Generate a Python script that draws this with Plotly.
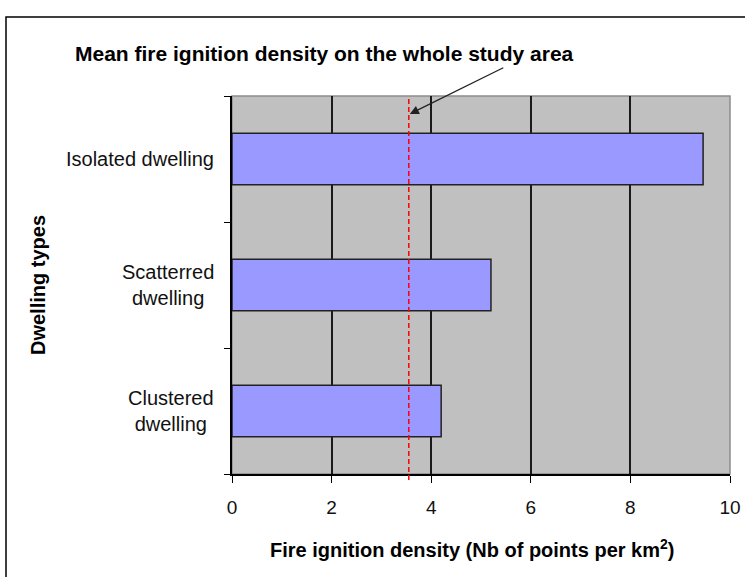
import plotly.graph_objects as go

categories = ["Isolated dwelling", "Scatterred dwelling", "Clustered dwelling"]
label_text = ["Isolated dwelling", "Scatterred<br>dwelling", "Clustered<br>dwelling"]
densities = [9.46, 5.2, 4.2]
mean_density = 3.55
x_ticks = [0, 2, 4, 6, 8, 10]

BOLD = "Liberation Sans, Arial, sans-serif"
REG = "Liberation Sans, Arial, sans-serif"

fig = go.Figure()
fig.add_trace(go.Bar(
    y=categories, x=densities, orientation="h",
    marker=dict(color="#9999FF", line=dict(color="#222222", width=1.5)),
    hoverinfo="skip", showlegend=False,
))

fig.update_layout(
    width=745, height=577, autosize=False,
    margin=dict(l=232, r=15, t=96, b=103, autoexpand=False),
    paper_bgcolor="white", plot_bgcolor="#C0C0C0",
    bargap=0.59,
    xaxis=dict(
        range=[0, 10], tickvals=x_ticks, ticks="outside", ticklen=7,
        tickcolor="black", showgrid=True, gridcolor="#1a1a1a", gridwidth=1.5,
        showline=True, linecolor="black", linewidth=1.5, zeroline=False,
        tickfont=dict(family=REG, size=19, color="#111111"),
        ticklabelstandoff=8, automargin=False,
        fixedrange=True,
    ),
    yaxis=dict(
        type="category", categoryorder="array", categoryarray=categories[::-1],
        tickson="boundaries", ticks="outside", ticklen=6, tickcolor="black",
        showticklabels=False, showgrid=False, automargin=False,
        showline=True, linecolor="black", linewidth=1.5, fixedrange=True,
    ),
)

# plot border (top/right grey)
fig.add_shape(type="rect", xref="paper", yref="paper", x0=0, x1=1, y0=0, y1=1,
              line=dict(color="#8c8c8c", width=1.5), layer="below")

# category labels
for c, t in zip(categories, label_text):
    fig.add_annotation(x=(216 - 232) / 498, xref="paper", y=c, yref="y", text=t,
                       showarrow=False, xanchor="right", align="center",
                       font=dict(family=REG, size=20, color="#111111"))

# mean line
fig.add_shape(type="line", xref="x", yref="paper", x0=mean_density, x1=mean_density,
              y0=-0.016, y1=1.0, line=dict(color="#FF0000", width=1.5, dash="5px,3px"))

# outer chart border
fig.add_shape(type="rect", xref="paper", yref="paper",
              x0=(6 - 232) / 498, x1=(780 - 232) / 498,
              y0=(474 - 620) / 378, y1=(474 - 17) / 378,
              line=dict(color="black", width=1.5), layer="below")

# annotation with arrow
fig.add_annotation(x=3.57, xref="x", y=(474 - 114) / 378, yref="paper",
                   ax=95, ay=-47, text="", showarrow=True, arrowhead=2,
                   arrowsize=1.4, arrowwidth=1.3, arrowcolor="#222222")
fig.add_annotation(x=(324 - 232) / 498, xref="paper", y=(474 - 53) / 378, yref="paper",
                   text="<b>Mean fire ignition density on the whole study area</b>",
                   showarrow=False, xanchor="center", yanchor="middle",
                   font=dict(family=BOLD, size=21, color="black"))

# axis titles
fig.add_annotation(x=(472 - 232) / 498, xref="paper", y=(474 - 548) / 378, yref="paper",
                   text="<b>Fire ignition density (Nb of points per km<sup>2</sup>)</b>",
                   showarrow=False, xanchor="center", yanchor="middle",
                   font=dict(family=BOLD, size=20, color="black"))
fig.add_annotation(x=(38 - 232) / 498, xref="paper", y=0.5, yref="paper",
                   text="<b>Dwelling types</b>", textangle=-90,
                   showarrow=False, xanchor="center", yanchor="middle",
                   font=dict(family=BOLD, size=20, color="black"))

fig.write_html("out.html", config={"displayModeBar": False, "responsive": False},
               post_script="document.body.style.margin='0';")
